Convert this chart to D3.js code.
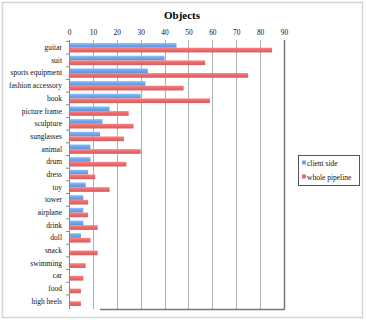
<!DOCTYPE html>
<html><head><meta charset="utf-8">
<script src="https://cdn.jsdelivr.net/npm/d3@7"></script>
<style>body{margin:0;background:#fff}svg{display:block}</style>
</head><body>
<script>
const categories = ["guitar","suit","sports equipment","fashion accessory","book","picture frame","sculpture","sunglasses","animal","drum","dress","toy","tower","airplane","drink","doll","snack","swimming","car","food","high heels"];
const clientSide =    [45,40,33,32,30,17,14,13,9,9,8,7,6,6,6,5,0,0,0,0,0];
const wholePipeline = [85,57,75,48,59,25,27,23,30,24,11,17,8,8,12,9,12,7,6,5,5];
const xTicks = [0,10,20,30,40,50,60,70,80,90];
const seriesNames = ["client side","whole pipeline"];
const colors = ["#6fa3ea","#e86a6a"];

(function(){
const W=366,H=320;
const svg=d3.select("body").append("svg").attr("width",W).attr("height",H);
const font="'Liberation Serif','Times New Roman',serif";

svg.append("rect").attr("x",2.5).attr("y",2.5).attr("width",360).attr("height",315)
  .attr("fill","#fff").attr("stroke","#d4d4d4").attr("stroke-width",1.5);

const pl=69,pr=284,pt=40,pb=309;
const x=d3.scaleLinear().domain([0,90]).range([pl,pr]);
const y=d3.scaleBand().domain(categories).range([pt,pb]).paddingInner(0.26).paddingOuter(0.24);
const sub=d3.scaleBand().domain([0,1]).range([0,y.bandwidth()]);

svg.append("text").attr("x",182).attr("y",19).attr("text-anchor","middle")
  .attr("font-family",font).attr("font-weight","bold").attr("font-size",11).attr("fill","#000").text("Objects");

svg.append("g").selectAll("line").data(xTicks.slice(1)).join("line")
  .attr("x1",d=>Math.round(x(d))+0.5).attr("x2",d=>Math.round(x(d))+0.5).attr("y1",pt).attr("y2",pb)
  .attr("stroke","#b0b0b0").attr("stroke-width",1);

const ax=svg.append("g").attr("transform",`translate(0,${pt})`)
  .call(d3.axisTop(x).tickValues(xTicks).tickSize(0).tickPadding(5));
ax.select(".domain").remove();
ax.selectAll("text").attr("font-family",font).attr("font-size",7.4).attr("fill","#111");

const defs=svg.append("defs");
colors.forEach((c,i)=>{
  const g=defs.append("linearGradient").attr("id","g"+i).attr("x1",0).attr("x2",0).attr("y1",0).attr("y2",1);
  g.append("stop").attr("offset","0%").attr("stop-color",d3.color(c).brighter(0.5));
  g.append("stop").attr("offset","50%").attr("stop-color",c);
  g.append("stop").attr("offset","100%").attr("stop-color",d3.color(c).darker(0.3));
});

const series=[clientSide,wholePipeline];
series.forEach((vals,si)=>{
  svg.append("g").selectAll("rect").data(categories).join("rect")
    .attr("x",x(0)).attr("y",(d)=>y(d)+sub(si))
    .attr("width",(d,i)=>x(vals[i])-x(0)).attr("height",sub.bandwidth())
    .attr("fill","url(#g"+si+")");
});

const ay=svg.append("g").attr("transform",`translate(${pl},0)`)
  .call(d3.axisLeft(y).tickSize(0).tickPadding(7));
ay.select(".domain").remove();
ay.selectAll("text").attr("font-family",font).attr("font-size",7.5).attr("fill","#111");
svg.append("line").attr("x1",pl+0.5).attr("x2",pl+0.5).attr("y1",pt).attr("y2",pb).attr("stroke","#888");
svg.append("g").selectAll("line").data(categories).join("line")
  .attr("x1",pl-3).attr("x2",pl).attr("y1",d=>y(d)-y.step()*y.paddingInner()/2).attr("y2",d=>y(d)-y.step()*y.paddingInner()/2)
  .attr("stroke","#888");

svg.append("line").attr("x1",pr+0.5).attr("x2",pr+0.5).attr("y1",pt).attr("y2",pb).attr("stroke","#777").attr("stroke-width",1.5);
svg.append("line").attr("x1",100).attr("x2",pr+1).attr("y1",pb+0.5).attr("y2",pb+0.5).attr("stroke","#777").attr("stroke-width",1.5);

const lg=svg.append("g");
lg.append("rect").attr("x",298.5).attr("y",155.5).attr("width",61).attr("height",30).attr("fill","#fff").attr("stroke","#555");
seriesNames.forEach((n,i)=>{
  const yy=164+i*14;
  lg.append("rect").attr("x",302).attr("y",yy-3.5).attr("width",4).attr("height",4).attr("fill",colors[i]);
  lg.append("text").attr("x",307).attr("y",yy+2).attr("font-family",font).attr("font-size",7.5).attr("fill","#111").text(n);
});
})();
</script>
</body></html>
